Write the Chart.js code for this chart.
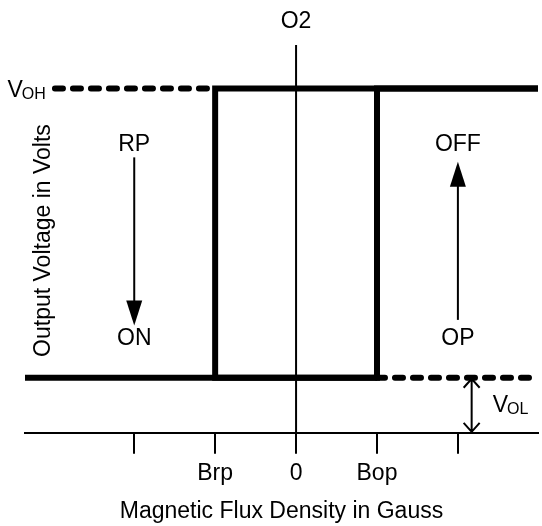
<!DOCTYPE html>
<html>
<head>
<meta charset="utf-8">
<script src="https://cdn.jsdelivr.net/npm/chart.js@4.4.1/dist/chart.umd.min.js"></script>
<style>
  html, body { margin: 0; padding: 0; background: #fff; }
  #chart { display: block; }
</style>
</head>
<body>
<canvas id="chart" width="542" height="526"></canvas>
<script>
"use strict"

// flux density ticks (B) and their labels
const bTicks = [-2, -1, 0, 1, 2]
const bTickLabels = ['', 'Brp', '0', 'Bop', '']

// axis extent
const bMin = -3.35
const bMax = 2.99
const vMin = 0
const vMax = 7.04

// output levels
const V_OH = 6.25
const V_OL = 1

// hysteresis paths (B, Vout)
const operateX = [bMin, 1, 1, bMax]
const operateY = [V_OL, V_OL, V_OH, V_OH]
const releaseX = [bMax, -1, -1, 1]
const releaseY = [V_OH, V_OH, V_OL, V_OL]

// dashed extensions of the output levels
const ohDashX = [-2.98, -1]
const ohDashY = [V_OH, V_OH]
const olDashX = [1, bMax]
const olDashY = [V_OL, V_OL]

// vertical axis through zero
const zeroX = [0, 0]
const zeroY = [vMin, vMax]

const FONT = "'Liberation Sans', Arial, Helvetica, sans-serif"
const FS = 23

function pts(xs, ys) {
	return xs.map(function (x, i) { return { x: x, y: ys[i] } })
}

// text labels placed in data units
const labels = [
	{ text: 'O2', x: 0, y: 7.47 },
	{ text: 'RP', x: -2, y: 5.23 },
	{ text: 'ON', x: -2, y: 1.7 },
	{ text: 'OFF', x: 2, y: 5.23 },
	{ text: 'OP', x: 2, y: 1.7 }
]
// arrows: from -> to, in data units
const arrows = [
	{ x: -2, from: 5.0, to: 1.95 },
	{ x: 2, from: 2.05, to: 4.92 }
]

const annotate = {
	id: 'annotate',
	afterDraw: function (chart) {
		const ctx = chart.ctx
		const xs = chart.scales.x
		const ys = chart.scales.y
		ctx.save()
		ctx.fillStyle = '#000'
		ctx.strokeStyle = '#000'
		ctx.textAlign = 'center'
		ctx.textBaseline = 'middle'
		ctx.font = FS + 'px ' + FONT
		labels.forEach(function (l) {
			ctx.fillText(l.text, xs.getPixelForValue(l.x), ys.getPixelForValue(l.y))
		})

		// filled arrows
		ctx.lineWidth = 2
		arrows.forEach(function (a) {
			const px = xs.getPixelForValue(a.x)
			const y0 = ys.getPixelForValue(a.from)
			const y1 = ys.getPixelForValue(a.to)
			const dir = y1 > y0 ? 1 : -1
			ctx.beginPath()
			ctx.moveTo(px, y0)
			ctx.lineTo(px, y1 - dir * 20)
			ctx.stroke()
			ctx.beginPath()
			ctx.moveTo(px, y1)
			ctx.lineTo(px - 8, y1 - dir * 25)
			ctx.lineTo(px + 8, y1 - dir * 25)
			ctx.closePath()
			ctx.fill()
		})

		// V_OL double arrow
		const ax = xs.getPixelForValue(2.17)
		const aTop = ys.getPixelForValue(V_OL) + 1
		const aBot = ys.getPixelForValue(0) - 1
		ctx.beginPath()
		ctx.moveTo(ax, aTop)
		ctx.lineTo(ax, aBot)
		ctx.moveTo(ax - 8, aTop + 9)
		ctx.lineTo(ax, aTop)
		ctx.lineTo(ax + 8, aTop + 9)
		ctx.moveTo(ax - 8, aBot - 9)
		ctx.lineTo(ax, aBot)
		ctx.lineTo(ax + 8, aBot - 9)
		ctx.stroke()

		// V_OH / V_OL with subscripts
		function vLabel(sub, x, y, align) {
			ctx.font = FS + 'px ' + FONT
			const wV = ctx.measureText('V').width
			ctx.font = '16px ' + FONT
			const wS = ctx.measureText(sub).width
			let left = xs.getPixelForValue(x)
			if (align === 'right') left -= wV + wS
			const py = ys.getPixelForValue(y)
			ctx.textAlign = 'left'
			ctx.textBaseline = 'alphabetic'
			ctx.font = FS + 'px ' + FONT
			ctx.fillText('V', left, py + 8)
			ctx.font = '16px ' + FONT
			ctx.fillText(sub, left + wV - 1, py + 10)
		}
		vLabel('OH', -3.08, V_OH, 'right')
		vLabel('OL', 2.43, 0.53, 'left')

		// y title
		ctx.save()
		ctx.translate(xs.getPixelForValue(-3.12), ys.getPixelForValue(3.49))
		ctx.rotate(-Math.PI / 2)
		ctx.textAlign = 'center'
		ctx.textBaseline = 'middle'
		ctx.font = FS + 'px ' + FONT
		ctx.fillText('Output Voltage in Volts', 0, 0)
		ctx.restore()
		ctx.restore()
	}
}

function lineSet(xs, ys, width, dash) {
	return {
		data: pts(xs, ys),
		showLine: true,
		borderColor: '#000',
		borderWidth: width,
		borderDash: dash || [],
		borderCapStyle: dash ? 'round' : 'butt',
		borderJoinStyle: 'miter',
		pointRadius: 0,
		fill: false,
		clip: 8
	}
}

new Chart(document.getElementById('chart'), {
	type: 'scatter',
	data: {
		datasets: [
			lineSet(zeroX, zeroY, 2),
			lineSet(ohDashX, ohDashY, 6, [8, 10]),
			lineSet(olDashX, olDashY, 6, [8, 10]),
			lineSet(operateX, operateY, 6),
			lineSet(releaseX, releaseY, 6)
		]
	},
	options: {
		responsive: false,
		animation: false,
		devicePixelRatio: 1,
		layout: { padding: { top: 45, left: 25, right: 4, bottom: 1 } },
		plugins: { legend: { display: false }, tooltip: { enabled: false } },
		scales: {
			x: {
				type: 'linear',
				min: bMin,
				max: bMax,
				afterBuildTicks: function (s) {
					s.ticks = bTicks.map(function (v) { return { value: v } })
				},
				ticks: {
					autoSkip: false,
					maxRotation: 0,
					padding: 6,
					color: '#000',
					font: { family: FONT, size: FS },
					callback: function (v) {
						const i = bTicks.indexOf(v)
						return i >= 0 ? bTickLabels[i] : ''
					}
				},
				grid: {
					drawOnChartArea: false,
					drawTicks: true,
					tickLength: 21,
					color: '#000',
					lineWidth: 2
				},
				border: { display: true, color: '#000', width: 2 },
				title: {
					display: true,
					text: 'Magnetic Flux Density in Gauss',
					color: '#000',
					font: { family: FONT, size: FS },
					padding: { top: 4, bottom: 0 }
				}
			},
			y: {
				type: 'linear',
				display: false,
				min: vMin,
				max: vMax
			}
		}
	},
	plugins: [annotate]
})
</script>
</body>
</html>
